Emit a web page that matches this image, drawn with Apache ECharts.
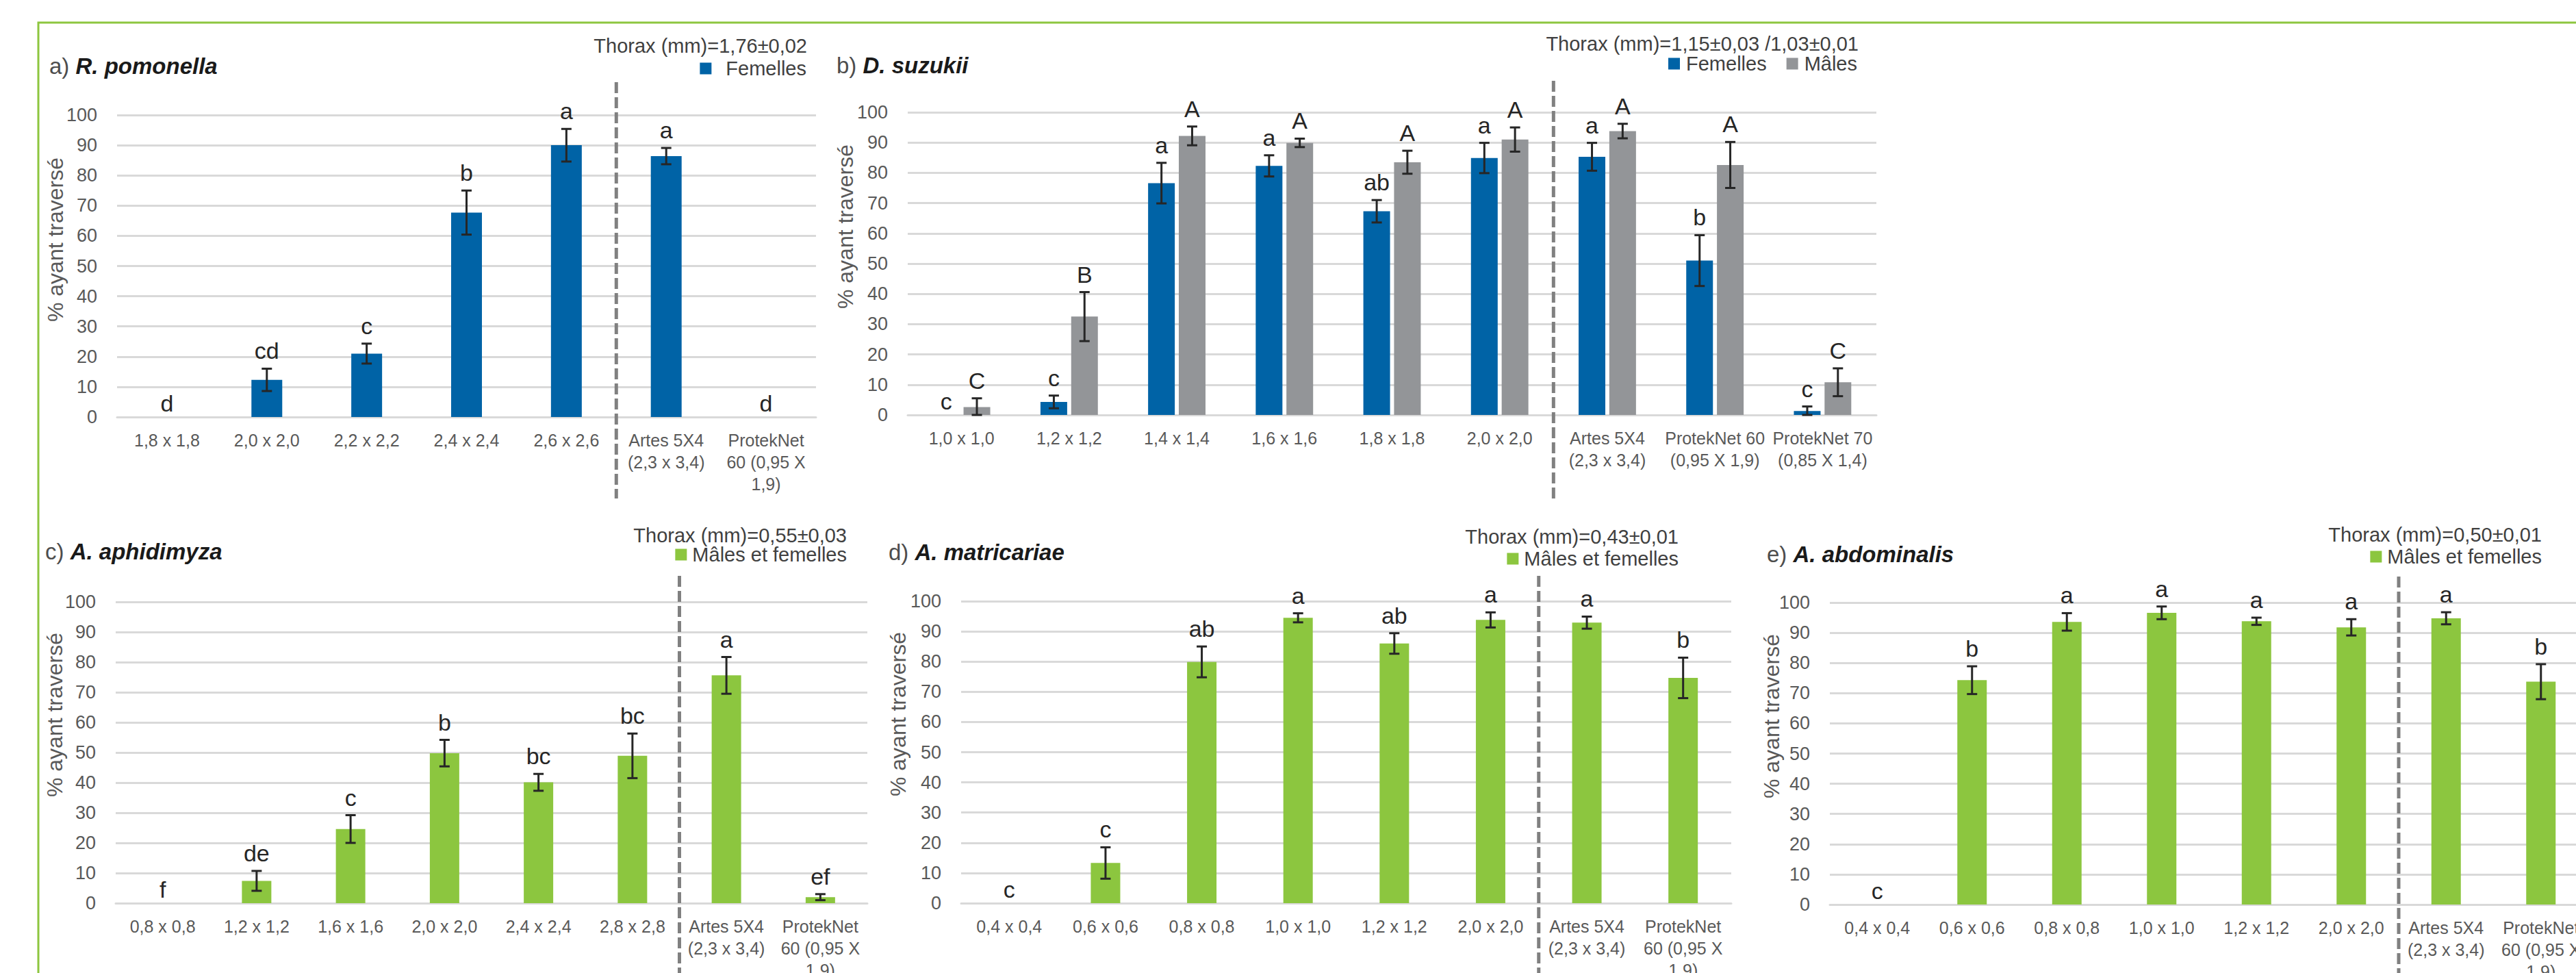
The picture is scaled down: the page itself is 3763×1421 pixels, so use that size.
<!DOCTYPE html>
<html>
<head>
<meta charset="utf-8">
<script src="https://cdn.jsdelivr.net/npm/echarts@6/dist/echarts.min.js"></script>
<style>
html,body{margin:0;padding:0;background:#fff;}
#chart{width:3763px;height:1421px;}
</style>
</head>
<body>
<div id="chart"></div>
<script>
// ---------------- DATA ----------------
const artes = 'Artes 5X4\n(2,3 x 3,4)';
const protek60 = 'ProtekNet\n60 (0,95 X\n1,9)';

// a) R. pomonella
const catA = ['1,8 x 1,8','2,0 x 2,0','2,2 x 2,2','2,4 x 2,4','2,6 x 2,6', artes, protek60];
const valA = [0, 12.3, 21.0, 67.7, 90.0, 86.4, 0];
const errA = [0, 3.7, 3.3, 7.3, 5.4, 2.7, 0];
const letA = ['d','cd','c','b','a','a','d'];

// b) D. suzukii
const catB = ['1,0 x 1,0','1,2 x 1,2','1,4 x 1,4','1,6 x 1,6','1,8 x 1,8','2,0 x 2,0', artes, 'ProtekNet 60\n(0,95 X 1,9)', 'ProtekNet 70\n(0,85 X 1,4)'];
const femB = [0, 4.3, 76.6, 82.3, 67.3, 84.9, 85.3, 51.0, 1.3];
const femErrB = [0, 2.1, 6.7, 3.5, 3.7, 5.0, 4.6, 8.4, 1.5];
const femLetB = ['c','c','a','a','ab','a','a','b','c'];
const malB = [2.6, 32.5, 92.2, 89.9, 83.5, 91.0, 93.8, 82.6, 10.8];
const malErrB = [2.9, 8.1, 3.1, 1.4, 3.8, 4.0, 2.4, 7.6, 4.6];
const malLetB = ['C','B','A','A','A','A','A','A','C'];

// c) A. aphidimyza
const catC = ['0,8 x 0,8','1,2 x 1,2','1,6 x 1,6','2,0 x 2,0','2,4 x 2,4','2,8 x 2,8', artes, protek60];
const valC = [0, 7.4, 24.6, 49.8, 40.1, 48.9, 75.6, 2.0];
const errC = [0, 3.3, 4.6, 4.4, 2.8, 7.4, 6.1, 1.0];
const letC = ['f','de','c','b','bc','bc','a','ef'];

// d) A. matricariae
const catD = ['0,4 x 0,4','0,6 x 0,6','0,8 x 0,8','1,0 x 1,0','1,2 x 1,2','2,0 x 2,0', artes, protek60];
const valD = [0, 13.3, 79.9, 94.5, 86.0, 93.8, 92.9, 74.6];
const errD = [0, 5.2, 5.1, 1.5, 3.4, 2.5, 2.0, 6.7];
const letD = ['c','c','ab','a','ab','a','a','b'];

// e) A. abdominalis
const catE = ['0,4 x 0,4','0,6 x 0,6','0,8 x 0,8','1,0 x 1,0','1,2 x 1,2','2,0 x 2,0', artes, protek60];
const valE = [0, 74.3, 93.6, 96.6, 93.8, 91.8, 94.8, 73.8];
const errE = [0, 4.6, 2.9, 2.1, 1.2, 2.7, 2.0, 5.8];
const letE = ['c','b','a','a','a','a','a','b'];

const yTicks = {min: 0, max: 100, interval: 10};
const yName = '% ayant traversé';
const nameF = 'Femelles', nameM = 'Mâles', nameMF = 'Mâles et femelles';

// ---------------- STYLE ----------------
const FF = '"Liberation Sans", Arial, Helvetica, sans-serif';
const BLUE = '#0063a6', GRAY = '#939598', GREEN = '#8cc63f';
const TXT = '#595959', DARK = '#262626';

const panels = [
  { cats: catA, title: ['a) ', 'R. pomonella'], titlePos: [72, 76],
    thorax: 'Thorax (mm)=1,76±0,02', thoraxPos: [1179, 67],
    legend: [nameF], legendPos: {right: 2585, top: 85}, legendPad: 16,
    grid: {left: 171, top: 168, width: 1021, height: 441},
    yNamePos: [81, 350], sep: 5, sepTop: 48, sepBottom: 728, barWidth: 45,
    series: [{name: nameF, vals: valA, errs: errA, lets: letA, color: BLUE, off: 0}] },
  { cats: catB, title: ['b) ', 'D. suzukii'], titlePos: [1222, 75],
    thorax: 'Thorax (mm)=1,15±0,03 /1,03±0,01', thoraxPos: [2715, 64],
    legend: [nameF, nameM], legendPos: {right: 1050, top: 78}, legendPad: 4,
    grid: {left: 1326, top: 164, width: 1415, height: 442},
    yNamePos: [1235, 331], sep: 6, sepTop: 46, sepBottom: 728, barWidth: 39,
    series: [{name: nameF, vals: femB, errs: femErrB, lets: femLetB, color: BLUE, off: -22.4},
             {name: nameM, vals: malB, errs: malErrB, lets: malLetB, color: GRAY, off: 22.4}] },
  { cats: catC, title: ['c) ', 'A. aphidimyza'], titlePos: [66, 785],
    thorax: 'Thorax (mm)=0,55±0,03', thoraxPos: [1237, 782],
    legend: [nameMF], legendPos: {right: 2526, top: 795}, legendPad: 3,
    grid: {left: 169, top: 879, width: 1098, height: 440},
    yNamePos: [80, 1044], sep: 6, sepTop: 38, sepBottom: 1421, barWidth: 43,
    series: [{name: nameMF, vals: valC, errs: errC, lets: letC, color: GREEN, off: 0}] },
  { cats: catD, title: ['d) ', 'A. matricariae'], titlePos: [1298, 786],
    thorax: 'Thorax (mm)=0,43±0,01', thoraxPos: [2452, 784],
    legend: [nameMF], legendPos: {right: 1311, top: 801}, legendPad: 3,
    grid: {left: 1404, top: 878, width: 1125, height: 441},
    yNamePos: [1312, 1043], sep: 6, sepTop: 37, sepBottom: 1421, barWidth: 43,
    series: [{name: nameMF, vals: valD, errs: errD, lets: letD, color: GREEN, off: 0}] },
  { cats: catE, title: ['e) ', 'A. abdominalis'], titlePos: [2581, 789],
    thorax: 'Thorax (mm)=0,50±0,01', thoraxPos: [3713, 781],
    legend: [nameMF], legendPos: {right: 50, top: 798}, legendPad: 3,
    grid: {left: 2673, top: 880, width: 1108, height: 441},
    yNamePos: [2588, 1046], sep: 6, sepTop: 38, sepBottom: 1421, barWidth: 43,
    series: [{name: nameMF, vals: valE, errs: errE, lets: letE, color: GREEN, off: 0}] }
];

const option = {
  animation: false, backgroundColor: '#ffffff',
  title: [], legend: [], grid: [], xAxis: [], yAxis: [], series: [],
  graphic: [{
    type: 'rect', silent: true, z: -10,
    shape: {x: 56, y: 33, width: 4000, height: 3000},
    style: {fill: 'none', stroke: '#8dc63f', lineWidth: 3}
  }]
};

function errRenderer(lets, off) {
  return function (params, api) {
    const i = api.value(0), v = api.value(1), e = api.value(2);
    const x = api.coord([i, 0])[0] + off;
    const children = [];
    let labelY;
    if (e > 0) {
      const yt = api.coord([i, v + e])[1];
      const yb = api.coord([i, Math.max(0, v - e)])[1];
      const ls = {stroke: DARK, lineWidth: 3};
      children.push({type: 'line', shape: {x1: x, y1: yt, x2: x, y2: yb}, style: ls});
      children.push({type: 'line', shape: {x1: x - 7.5, y1: yt, x2: x + 7.5, y2: yt}, style: ls});
      children.push({type: 'line', shape: {x1: x - 7.5, y1: yb, x2: x + 7.5, y2: yb}, style: ls});
      labelY = yt - 9;
    } else {
      labelY = api.coord([i, v])[1] - 3;
    }
    children.push({type: 'text', style: {
      text: lets[params.dataIndex], x: x, y: labelY,
      align: 'center', verticalAlign: 'bottom',
      font: 'normal 34px ' + FF, fill: DARK }});
    return {type: 'group', children: children};
  };
}

panels.forEach(function (p, k) {
  option.title.push({
    left: p.titlePos[0], top: p.titlePos[1], padding: 0,
    text: '{n|' + p.title[0] + '}{s|' + p.title[1] + '}',
    textStyle: { fontFamily: FF, fontSize: 33, lineHeight: 40, fontWeight: 'normal',
      rich: {
        n: {fontFamily: FF, fontSize: 33, lineHeight: 40, color: '#4d4d4d', fontWeight: 'normal'},
        s: {fontFamily: FF, fontSize: 33, lineHeight: 40, color: '#1a1a1a', fontStyle: 'italic', fontWeight: 'bold'}
      } }
  });
  option.legend.push({
    data: p.legend, right: p.legendPos.right, top: p.legendPos.top, padding: 0,
    orient: 'horizontal', icon: 'rect', itemWidth: 17, itemHeight: 17, itemGap: 29,
    selectedMode: false,
    textStyle: {fontFamily: FF, fontSize: 29, lineHeight: 30, color: '#404040', padding: [0, 0, 0, p.legendPad]}
  });
  option.grid.push(Object.assign({outerBoundsMode: 'none', containLabel: false}, p.grid));
  option.xAxis.push({
    type: 'category', gridIndex: k, data: p.cats,
    axisTick: {show: false},
    axisLine: {show: true, lineStyle: {color: '#d9d9d9', width: 3}},
    axisLabel: {interval: 0, fontFamily: FF, fontSize: 25, lineHeight: 32, color: TXT, margin: 18}
  });
  option.yAxis.push({
    type: 'value', gridIndex: k, min: yTicks.min, max: yTicks.max, interval: yTicks.interval,
    axisLine: {show: false}, axisTick: {show: false},
    splitLine: {show: true, lineStyle: {color: '#d9d9d9', width: 3}},
    axisLabel: {fontFamily: FF, fontSize: 27, color: TXT, margin: 29}
  });
  p.series.forEach(function (s) {
    option.series.push({
      type: 'bar', name: s.name, xAxisIndex: k, yAxisIndex: k, data: s.vals,
      barWidth: p.barWidth, barGap: '15%', itemStyle: {color: s.color}, z: 2
    });
  });
  p.series.forEach(function (s) {
    option.series.push({
      type: 'custom', name: s.name + ' err', xAxisIndex: k, yAxisIndex: k, z: 5, silent: true, clip: false,
      data: s.vals.map(function (v, i) { return [i, v, s.errs[i]]; }),
      encode: {x: 0, y: 1},
      renderItem: errRenderer(s.lets, s.off)
    });
  });
  option.series.push({
    type: 'custom', name: 'sep' + k, xAxisIndex: k, yAxisIndex: k, z: 6, silent: true, clip: false,
    data: [[p.sep, 0]], encode: {x: 0, y: 1},
    renderItem: function (params, api) {
      const i = api.value(0);
      const xa = api.coord([i - 1, 0])[0], xb = api.coord([i, 0])[0];
      const x = (xa + xb) / 2;
      const yTop = api.coord([i, 100])[1] - p.sepTop;
      return {type: 'line', shape: {x1: x, y1: yTop, x2: x, y2: p.sepBottom},
        style: {stroke: '#808080', lineWidth: 5, lineDash: [16, 6]}};
    }
  });
  option.graphic.push({
    type: 'text', x: p.thoraxPos[0], y: p.thoraxPos[1], silent: true,
    style: {text: p.thorax, font: 'normal 29px ' + FF, fill: '#404040', align: 'right', verticalAlign: 'middle'}
  });
  option.graphic.push({
    type: 'text', x: p.yNamePos[0], y: p.yNamePos[1], rotation: Math.PI / 2, silent: true,
    style: {text: yName, font: 'normal 32px ' + FF, fill: TXT, align: 'center', verticalAlign: 'middle'}
  });
});

const chart = echarts.init(document.getElementById('chart'), null, {renderer: 'svg', width: 3763, height: 1421});
chart.setOption(option);
</script>
</body>
</html>
